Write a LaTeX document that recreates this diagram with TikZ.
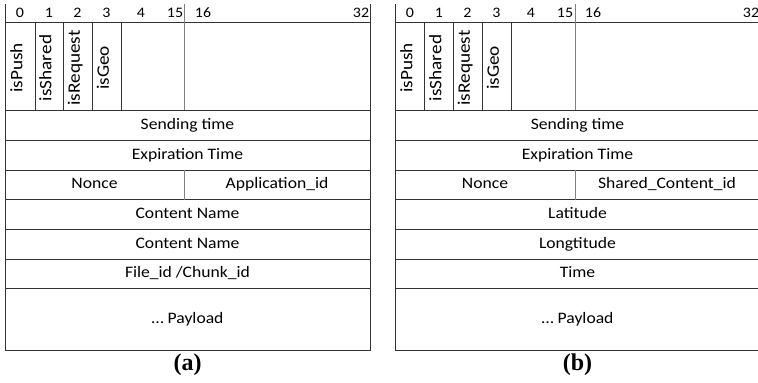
\documentclass[tikz,border=0pt]{standalone}
\usepackage{fontspec}
\setmainfont{Carlito}[FakeStretch=1.1]
\newfontfamily\capfont{Liberation Serif}
\begin{document}
\begin{tikzpicture}[x=1pt,y=-1pt,
  frame/.style={draw=black!80,line width=1pt},
  inner/.style={draw=black!50,line width=1pt},
  lbl/.style={font=\fontsize{16}{18}\selectfont,inner sep=0pt,text height=0.68em,text depth=0.2em,yshift=-2pt},
  bitno/.style={font=\fontsize{14.5}{16}\selectfont,inner sep=0pt,text height=0.65em,text depth=0em},
  vlbl/.style={font=\fontsize{17.5}{19}\selectfont,inner sep=0pt,text height=0.68em,text depth=0.2em,rotate=90},
  captext/.style={font=\capfont\bfseries\fontsize{24}{26}\selectfont,inner sep=0pt}]
\useasboundingbox (0,0) rectangle (758,383);
% ---------------- panel (a)
\begin{scope}
\draw[frame] (5,4) -- (5,350) -- (370,350) -- (370,4);
\foreach \y in {22.5,110,140,170,199.5,229,259,288} \draw[frame] (5,\y) -- (370,\y);
\foreach \x in {35,63,92,121} \draw[frame] (\x,22.5) -- (\x,110);
\draw[inner] (184,4) -- (184,110);
\draw[inner] (184,170) -- (184,199.5);
\node[bitno] (a0) at (20,14) {0};
\node[bitno] (a1) at (49,14) {1};
\node[bitno] (a2) at (77.5,14) {2};
\node[bitno] (a3) at (106.5,14) {3};
\node[bitno] (a4) at (141,14) {4};
\node[bitno] (a15) at (175,14) {15};
\node[bitno] (a16) at (203,14) {16};
\node[bitno] (a32) at (361,14) {32};
\node[vlbl] (apush) at (20,68) {isPush};
\node[vlbl] (ashared) at (49,68) {isShared};
\node[vlbl] (arequest) at (77.5,68) {isRequest};
\node[vlbl] (ageo) at (106.5,68) {isGeo};
\node[lbl] (asend) at (187.5,125) {Sending time};
\node[lbl] (aexp) at (187.5,155) {Expiration Time};
\node[lbl] (anonce) at (94.5,184.5) {Nonce};
\node[lbl] (aapp) at (277,184.5) {Application\_id};
\node[lbl] (acn1) at (187.5,214) {Content Name};
\node[lbl] (acn2) at (187.5,244) {Content Name};
\node[lbl] (afile) at (187.5,273.5) {File\_id /Chunk\_id};
\node[lbl] (apay) at (187.5,319) {… Payload};
\node[captext] (acap) at (187.5,365) {(a)};
\end{scope}
% ---------------- panel (b)
\begin{scope}
\draw[frame] (395,4) -- (395,350) -- (762,350);
\foreach \y in {22.5,110,140,170,199.5,229,259,288} \draw[frame] (395,\y) -- (762,\y);
\foreach \x in {424,453,482,511} \draw[frame] (\x,22.5) -- (\x,110);
\draw[inner] (575,4) -- (575,110);
\draw[inner] (575,170) -- (575,199.5);
\node[bitno] (b0) at (410,14) {0};
\node[bitno] (b1) at (439,14) {1};
\node[bitno] (b2) at (467.5,14) {2};
\node[bitno] (b3) at (496.5,14) {3};
\node[bitno] (b4) at (531,14) {4};
\node[bitno] (b15) at (565,14) {15};
\node[bitno] (b16) at (593,14) {16};
\node[bitno] (b32) at (751,14) {32};
\node[vlbl] (bpush) at (410,68) {isPush};
\node[vlbl] (bshared) at (439,68) {isShared};
\node[vlbl] (brequest) at (467.5,68) {isRequest};
\node[vlbl] (bgeo) at (496.5,68) {isGeo};
\node[lbl] (bsend) at (577.5,125) {Sending time};
\node[lbl] (bexp) at (577.5,155) {Expiration Time};
\node[lbl] (bnonce) at (485,184.5) {Nonce};
\node[lbl] (bsci) at (667,184.5) {Shared\_Content\_id};
\node[lbl] (blat) at (577.5,214) {Latitude};
\node[lbl] (blon) at (577.5,244) {Longtitude};
\node[lbl] (btime) at (577.5,273.5) {Time};
\node[lbl] (bpay) at (577.5,319) {… Payload};
\node[captext] (bcap) at (577.5,365) {(b)};
\end{scope}
\end{tikzpicture}
\end{document}
